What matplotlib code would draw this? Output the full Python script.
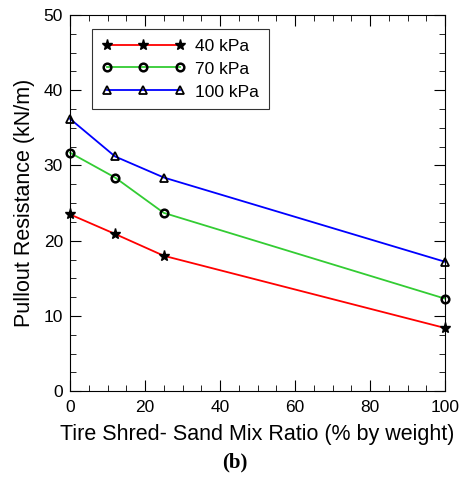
import matplotlib
matplotlib.use('Agg')
from matplotlib import pyplot as plt
from matplotlib.ticker import MultipleLocator

plt.rcParams['font.family'] = ['Liberation Sans', 'DejaVu Sans']

# mix ratio (% by weight)
ratio = [0, 12, 25, 100]

# pullout resistance (kN/m) for each normal stress
p40 = [23.5, 20.9, 18.0, 8.4]
p70 = [31.7, 28.4, 23.7, 12.3]
p100 = [36.2, 31.2, 28.4, 17.2]

labels = ['40 kPa', '70 kPa', '100 kPa']

fig = plt.figure(figsize=(4.7, 4.83), dpi=100)
ax = fig.add_axes([0.149, 0.19, 0.798, 0.779])

ax.plot(ratio, p40, '-', color='#ff0000', lw=1.3, marker='*', ms=8,
        mfc='black', mec='black', label=labels[0], clip_on=False)
ax.plot(ratio, p70, '-', color='#33cc33', lw=1.3, marker='o', ms=5.5,
        mfc='none', mec='black', mew=1.8, label=labels[1], clip_on=False)
ax.plot(ratio, p100, '-', color='#0000ff', lw=1.3, marker='^', ms=6,
        mfc='none', mec='black', mew=1.3, label=labels[2], clip_on=False)

ax.set_xlim(0, 100)
ax.set_ylim(0, 50)
ax.xaxis.set_major_locator(MultipleLocator(20))
ax.xaxis.set_minor_locator(MultipleLocator(5))
ax.yaxis.set_major_locator(MultipleLocator(10))
ax.yaxis.set_minor_locator(MultipleLocator(2.5))
ax.tick_params(which='both', direction='in', top=True, right=True, labelsize=12.5)
ax.tick_params(which='major', length=8)
ax.tick_params(which='minor', length=4)
ax.tick_params(axis='x', which='major', pad=6)
ax.tick_params(axis='y', which='major', pad=5)

ax.set_xlabel('Tire Shred- Sand Mix Ratio (% by weight)', fontsize=15.5, labelpad=7)
ax.set_ylabel('Pullout Resistance (kN/m)', fontsize=15.5, labelpad=6)

leg = ax.legend(loc='upper left', numpoints=3, fancybox=False, edgecolor='black',
                fontsize=12.5, bbox_to_anchor=(0.059, 0.963), borderaxespad=0,
                handlelength=4.8, handletextpad=0.6, borderpad=0.55,
                labelspacing=0.45)
leg.get_frame().set_linewidth(0.8)

fig.text(0.5, 0.033, '(b)', ha='center', fontsize=15, fontweight='bold',
         family='Liberation Serif')

plt.savefig('out.png', dpi=100)
